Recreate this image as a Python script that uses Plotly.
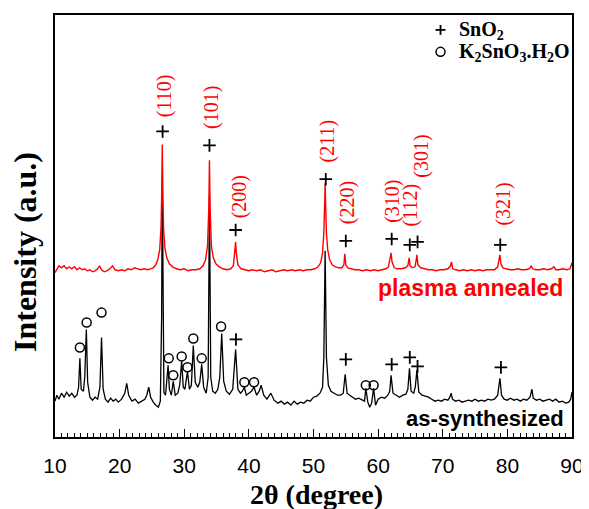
import plotly.graph_objects as go

# ---------------- data (2theta in degree, intensity in a.u.) ----------------
red_pts = [
    (10.0, 165), (10.3, 168), (10.6, 172), (11.0, 170), (11.4, 172), (11.8, 169), (12.2, 171),
    (12.6, 169), (13.0, 171), (13.4, 168), (13.8, 170), (14.2, 168), (14.6, 169), (15.0, 167),
    (15.4, 168), (15.8, 166), (16.2, 167), (16.6, 169), (16.9, 172), (17.2, 168), (17.6, 166),
    (18.0, 167), (18.5, 169), (18.9, 172), (19.3, 168), (19.8, 167), (20.3, 168), (20.8, 167),
    (21.3, 169), (21.8, 168), (22.3, 170), (22.8, 169), (23.3, 168), (23.8, 169), (24.3, 168),
    (24.8, 169), (25.2, 170), (25.6, 173), (25.9, 178), (26.2, 188), (26.4, 210), (26.5, 240),
    (26.6, 294), (26.7, 240), (26.8, 210), (27.0, 190), (27.3, 180), (27.7, 174), (28.2, 171),
    (28.8, 169), (29.4, 168), (30.0, 169), (30.6, 167), (31.2, 168), (31.8, 168), (32.4, 169),
    (32.9, 172), (33.3, 178), (33.6, 192), (33.8, 230), (33.9, 278), (34.0, 230), (34.2, 192),
    (34.5, 180), (34.9, 174), (35.4, 171), (36.0, 169), (36.6, 168), (37.2, 169), (37.6, 172),
    (37.85, 185), (37.95, 196), (38.05, 185), (38.3, 173), (38.8, 169), (39.4, 168), (40.0, 167),
    (40.6, 168), (41.2, 167), (41.8, 168), (42.4, 166), (43.0, 167), (43.6, 168), (44.2, 166),
    (44.8, 167), (45.4, 168), (46.0, 167), (46.6, 168), (47.2, 167), (47.8, 168), (48.4, 167),
    (49.0, 168), (49.6, 168), (50.2, 169), (50.7, 171), (51.1, 175), (51.4, 185), (51.6, 205),
    (51.75, 240), (51.8, 255), (51.85, 240), (52.0, 205), (52.2, 188), (52.5, 178), (52.9, 173),
    (53.4, 171), (53.9, 170), (54.4, 170), (54.7, 173), (54.85, 184), (55.0, 173), (55.3, 170),
    (55.8, 169), (56.4, 168), (57.0, 168), (57.6, 167), (58.2, 168), (58.8, 167), (59.4, 168),
    (60.0, 167), (60.6, 168), (61.2, 169), (61.6, 171), (61.85, 178), (62.0, 185), (62.15, 176),
    (62.5, 170), (63.0, 169), (63.6, 169), (64.2, 170), (64.6, 172), (64.8, 180), (64.95, 172),
    (65.3, 170), (65.7, 171), (65.9, 178), (66.0, 183), (66.15, 173), (66.6, 170), (67.2, 169),
    (67.8, 168), (68.4, 168), (69.0, 167), (69.6, 168), (70.2, 168), (70.8, 169), (71.2, 172),
    (71.35, 176), (71.55, 169), (72.0, 168), (72.6, 167), (73.2, 168), (73.8, 167), (74.4, 168),
    (75.0, 167), (75.6, 168), (76.2, 167), (76.8, 168), (77.4, 168), (78.0, 168), (78.5, 171),
    (78.75, 178), (78.85, 183), (79.0, 174), (79.3, 170), (79.8, 169), (80.4, 168), (81.0, 168),
    (81.6, 169), (82.2, 168), (82.8, 168), (83.4, 169), (83.7, 172), (83.9, 169), (84.4, 168),
    (85.0, 168), (85.6, 169), (86.2, 168), (86.8, 169), (87.2, 171), (87.5, 168), (88.0, 168),
    (88.6, 169), (89.2, 168), (89.7, 169), (90.0, 175),
]

black_pts = [
    (10.0, 36), (10.3, 42), (10.6, 38), (11.0, 44), (11.4, 40), (11.8, 45), (12.2, 41), (12.6, 44),
    (13.0, 40), (13.4, 42), (13.65, 50), (13.85, 79), (14.05, 48), (14.4, 46), (14.6, 60),
    (14.85, 108), (15.05, 55), (15.4, 40), (15.8, 37), (16.2, 40), (16.6, 38), (16.95, 50),
    (17.2, 100), (17.45, 48), (17.8, 38), (18.2, 35), (18.6, 39), (19.0, 36), (19.4, 38),
    (19.8, 35), (20.3, 38), (20.8, 44), (21.1, 54), (21.4, 42), (21.9, 36), (22.4, 38), (22.9, 34),
    (23.4, 36), (23.9, 38), (24.2, 42), (24.5, 50), (24.8, 40), (25.2, 35), (25.6, 32), (26.0, 30),
    (26.3, 36), (26.5, 120), (26.6, 262), (26.7, 120), (26.85, 45), (27.1, 42), (27.3, 58),
    (27.5, 72), (27.7, 48), (28.0, 42), (28.3, 56), (28.6, 42), (29.0, 44), (29.3, 52), (29.6, 76),
    (29.85, 50), (30.1, 48), (30.5, 66), (30.8, 48), (31.1, 52), (31.4, 92), (31.7, 55), (32.1, 50),
    (32.4, 55), (32.7, 73), (33.0, 50), (33.4, 44), (33.7, 60), (33.9, 242), (34.1, 60), (34.4, 46),
    (34.8, 44), (35.2, 48), (35.5, 60), (35.8, 104), (36.1, 56), (36.5, 46), (37.0, 43), (37.5, 48),
    (37.95, 88), (38.3, 48), (38.7, 44), (39.0, 46), (39.3, 50), (39.6, 42), (40.0, 44), (40.4, 46),
    (40.8, 50), (41.2, 42), (41.6, 46), (41.9, 52), (42.3, 42), (42.8, 38), (43.4, 44), (43.9, 37),
    (44.5, 34), (45.0, 36), (45.5, 33), (46.0, 35), (46.5, 32), (47.0, 36), (47.5, 33), (48.0, 35),
    (48.5, 34), (49.0, 37), (49.5, 36), (50.0, 40), (50.5, 41), (51.0, 44), (51.4, 50), (51.6, 80),
    (51.8, 187), (52.0, 80), (52.3, 52), (52.7, 46), (53.2, 44), (53.7, 42), (54.2, 42), (54.6, 44),
    (54.9, 63), (55.2, 44), (55.6, 42), (56.0, 40), (56.5, 38), (57.0, 39), (57.5, 37), (57.9, 36),
    (58.1, 49), (58.4, 35), (58.7, 30), (59.0, 34), (59.3, 49), (59.6, 32), (60.0, 38), (60.5, 40),
    (61.0, 39), (61.5, 42), (61.8, 46), (62.0, 62), (62.3, 44), (62.8, 42), (63.3, 40), (63.8, 42),
    (64.3, 43), (64.6, 48), (64.85, 69), (65.1, 46), (65.5, 44), (65.75, 50), (66.0, 67), (66.3, 45),
    (66.8, 42), (67.3, 41), (67.8, 40), (68.3, 38), (68.8, 36), (69.3, 37), (69.8, 36), (70.3, 38),
    (70.8, 37), (71.1, 40), (71.3, 44), (71.5, 38), (72.0, 36), (72.5, 37), (73.0, 35), (73.5, 36),
    (74.0, 37), (74.5, 36), (75.0, 38), (75.5, 36), (76.0, 37), (76.5, 36), (77.0, 38), (77.5, 37),
    (78.0, 38), (78.5, 42), (78.85, 59), (79.1, 42), (79.5, 38), (80.0, 37), (80.5, 39), (81.0, 37),
    (81.5, 38), (82.0, 36), (82.5, 38), (83.0, 37), (83.5, 40), (83.8, 48), (84.0, 39), (84.5, 37),
    (85.0, 38), (85.5, 36), (86.0, 37), (86.5, 38), (87.0, 36), (87.5, 38), (88.0, 35), (88.5, 36),
    (89.0, 34), (89.5, 35), (89.8, 38), (90.0, 45),
]

# SnO2 (+) marker positions
sno2_x = [26.65, 33.9, 37.95, 51.9, 55.0, 62.1, 64.9, 66.1, 78.9,
          38.0, 55.0, 62.1, 64.9, 66.1, 79.0]
sno2_y = [307, 293, 208, 259, 197, 199, 193, 196, 193,
          98, 78, 73, 80, 71, 70]

# K2SnO3.H2O (o) marker positions
k2_x = [13.85, 14.9, 17.2, 27.6, 28.3, 29.6, 30.5, 31.4, 32.7, 35.7, 39.3, 40.8, 58.1, 59.3]
k2_y = [90, 115, 125, 79, 62, 81, 70, 99, 79, 111, 55, 55, 52, 52]

# (hkl) labels
hkl_text = ["(110)", "(101)", "(200)", "(211)", "(220)", "(310)", "(112)", "(301)", "(321)"]
hkl_x = [26.95, 34.2, 38.5, 52.1, 55.2, 62.1, 65.0, 66.7, 79.4]
hkl_y = [343, 331, 241, 297, 235, 237, 233, 282, 234]

legend_names = ["SnO<sub>2</sub>", "K<sub>2</sub>SnO<sub>3</sub>.H<sub>2</sub>O"]

x_ticks = [10, 20, 30, 40, 50, 60, 70, 80, 90]

# ---------------- figure ----------------
fig = go.Figure()

fig.add_trace(go.Scatter(
    x=[p[0] for p in black_pts], y=[p[1] for p in black_pts], mode="lines",
    line=dict(color="black", width=1.3), showlegend=False, hoverinfo="skip"))
fig.add_trace(go.Scatter(
    x=[p[0] for p in red_pts], y=[p[1] for p in red_pts], mode="lines",
    line=dict(color="#ff0000", width=1.4), showlegend=False, hoverinfo="skip"))

fig.add_trace(go.Scatter(
    x=sno2_x, y=sno2_y, mode="markers", name=legend_names[0], showlegend=False,
    marker=dict(symbol="cross-thin", size=9, color="black", line=dict(width=1.8, color="black"))))
fig.add_trace(go.Scatter(
    x=k2_x, y=k2_y, mode="markers", name=legend_names[1], showlegend=False,
    marker=dict(symbol="circle-open", size=9, color="black", line=dict(width=1.5, color="black"))))

for t, hx, hy in zip(hkl_text, hkl_x, hkl_y):
    fig.add_annotation(x=hx, y=hy, xref="x", yref="y", text=t, showarrow=False,
                       textangle=-90, font=dict(family="Liberation Serif", size=20, color="#ff0000"))

# page body adds an 8px offset, so the figure is sized/margined to compensate
OFF = 8
W, H = 589 - OFF, 509 - OFF
L, R, T, B = 55 - OFF, 15, 13 - OFF, 72
plot_left, plot_right, plot_top, plot_bottom = 55, 574, 13, 437
pw, ph = plot_right - plot_left, plot_bottom - plot_top


def px(xp):
    return (xp - plot_left) / pw


def py(yp):
    return (plot_bottom - yp) / ph


# legend key (drawn manually for tight spacing)
kx, k1y, k2y = 442, 28, 50
fig.add_shape(type="line", xref="paper", yref="paper", x0=px(kx - 5), x1=px(kx + 5), y0=py(k1y), y1=py(k1y),
              line=dict(color="black", width=1.8))
fig.add_shape(type="line", xref="paper", yref="paper", x0=px(kx), x1=px(kx), y0=py(k1y - 5), y1=py(k1y + 5),
              line=dict(color="black", width=1.8))
fig.add_shape(type="circle", xref="paper", yref="paper", x0=px(kx - 4.5), x1=px(kx + 4.5),
              y0=py(k2y - 4.5), y1=py(k2y + 4.5), line=dict(color="black", width=1.5))
for name, ky in zip(legend_names, [k1y, k2y]):
    fig.add_annotation(x=px(459), y=py(ky + 1), xref="paper", yref="paper", xanchor="left", yanchor="middle",
                       text="<b>" + name + "</b>", showarrow=False,
                       font=dict(family="Liberation Serif", size=20, color="black"))

fig.add_annotation(x=px(567), y=py(287), xref="paper", yref="paper", xanchor="right", yanchor="middle",
                   text="<b>plasma annealed</b>", showarrow=False,
                   font=dict(family="Liberation Sans", size=23, color="#ff0000"))
fig.add_annotation(x=px(568), y=py(418), xref="paper", yref="paper", xanchor="right", yanchor="middle",
                   text="<b>as-synthesized</b>", showarrow=False,
                   font=dict(family="Liberation Sans", size=22, color="black"))
fig.add_annotation(x=px(318), y=py(495), xref="paper", yref="paper", xanchor="center", yanchor="middle",
                   text="<b>2θ (degree)</b>", showarrow=False,
                   font=dict(family="Liberation Serif", size=28, color="black"))
fig.add_annotation(x=px(25), y=py(251), xref="paper", yref="paper", xanchor="center", yanchor="middle",
                   text="<b>Intensity (a.u.)</b>", showarrow=False, textangle=-90,
                   font=dict(family="Liberation Serif", size=32, color="black"))

fig.update_layout(
    width=W, height=H, autosize=False,
    margin=dict(l=L, r=R, t=T, b=B),
    paper_bgcolor="white", plot_bgcolor="white",
    showlegend=False,
    xaxis=dict(range=[10, 90], tickvals=x_ticks, ticktext=[str(v) for v in x_ticks],
               ticks="inside", ticklen=8, tickwidth=1.2, tickcolor="black",
               minor=dict(ticks="inside", ticklen=4, dtick=1, tickwidth=1, tickcolor="black"),
               showline=True, linewidth=2, linecolor="black", mirror=True,
               showgrid=False, zeroline=False, ticklabelstandoff=9,
               tickfont=dict(family="Liberation Sans", size=21, color="black")),
    yaxis=dict(range=[0, 424], showticklabels=False, ticks="", showline=True, linewidth=2,
               linecolor="black", mirror=True, showgrid=False, zeroline=False),
)

fig.write_html("out.html")
